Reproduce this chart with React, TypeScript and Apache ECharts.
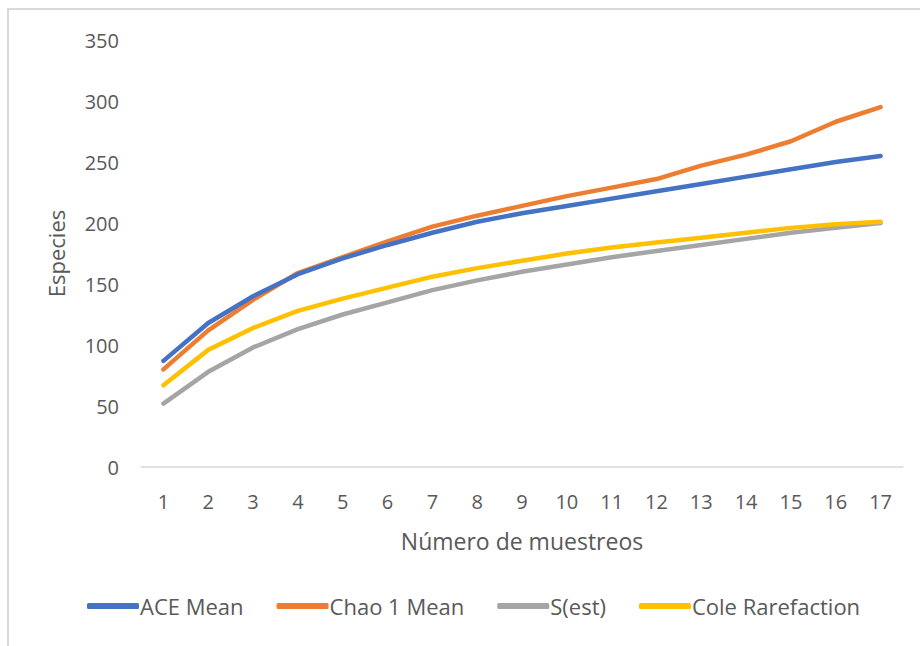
import React, { useEffect, useRef } from "react";
import * as echarts from "echarts";

const categories = ["1","2","3","4","5","6","7","8","9","10","11","12","13","14","15","16","17"];
const aceMean = [87, 118, 140, 158, 171, 182, 192, 201, 208, 214, 220, 226, 232, 238, 244, 250, 255];
const chao1Mean = [80, 112, 137, 159, 172, 185, 197, 206, 214, 222, 229, 236, 247, 256, 267, 283, 295];
const sEst = [52, 78, 98, 113, 125, 135, 145, 153, 160, 166, 172, 177, 182, 187, 192, 196, 200];
const coleRarefaction = [67, 96, 114, 128, 138, 147, 156, 163, 169, 175, 180, 184, 188, 192, 196, 199, 201];
const seriesNames = ["ACE Mean", "Chao 1 Mean", "S(est)", "Cole Rarefaction"];
const seriesColors = ["#4472C4", "#ED7D31", "#A5A5A5", "#FFC000"];

const FONT = "Open Sans";

export default function App() {
  const ref = useRef<HTMLDivElement>(null);
  useEffect(() => {
    if (!ref.current) return;
    const chart = echarts.init(ref.current, undefined, { renderer: "svg" });
    const data = [aceMean, chao1Mean, sEst, coleRarefaction];
    chart.setOption({
      animation: false,
      backgroundColor: "#ffffff",
      textStyle: { fontFamily: FONT },
      graphic: [
        {
          type: "rect",
          shape: { x: 8, y: 9, width: 1000, height: 1000 },
          style: { fill: "none", stroke: "#d9d9d9", lineWidth: 2 },
          silent: true,
        },
      ],
      grid: { left: 141, right: 17, top: 40, bottom: 179, containLabel: false },
      legend: {
        data: seriesNames,
        bottom: 24,
        left: 82,
        icon: "roundRect",
        itemWidth: 52,
        itemHeight: 6,
        itemGap: 33,
        textStyle: { fontFamily: FONT, fontSize: 22, color: "#595959", padding: [0, 0, 0, -4] },
      },
      xAxis: {
        type: "category",
        data: categories,
        boundaryGap: true,
        name: "Número de muestreos",
        nameLocation: "middle",
        nameGap: 62,
        nameTextStyle: { fontFamily: FONT, fontSize: 23, color: "#595959" },
        axisLine: { lineStyle: { color: "#d9d9d9", width: 1.5 } },
        axisTick: { show: false },
        axisLabel: { fontFamily: FONT, fontSize: 20, color: "#595959", margin: 24 },
      },
      yAxis: {
        type: "value",
        min: 0,
        max: 350,
        interval: 50,
        name: "Especies",
        nameLocation: "middle",
        nameGap: 74,
        nameRotate: 90,
        nameTextStyle: { fontFamily: FONT, fontSize: 22, color: "#595959" },
        axisLine: { show: false },
        axisTick: { show: false },
        splitLine: { show: false },
        axisLabel: { fontFamily: FONT, fontSize: 20, color: "#595959", margin: 22 },
      },
      series: seriesNames.map((name, i) => ({
        name,
        type: "line",
        data: data[i],
        symbol: "none",
        smooth: false,
        lineStyle: { color: seriesColors[i], width: 4.5, cap: "round", join: "round" },
        itemStyle: { color: seriesColors[i] },
        z: 10 - (i === 3 ? 1 : i),
      })),
    });
    return () => chart.dispose();
  }, []);
  return (
    <div style={{ position: "fixed", left: 0, top: 0, width: 920, height: 646, overflow: "hidden" }}>
      <div ref={ref} style={{ width: 920, height: 646 }} />
    </div>
  );
}
